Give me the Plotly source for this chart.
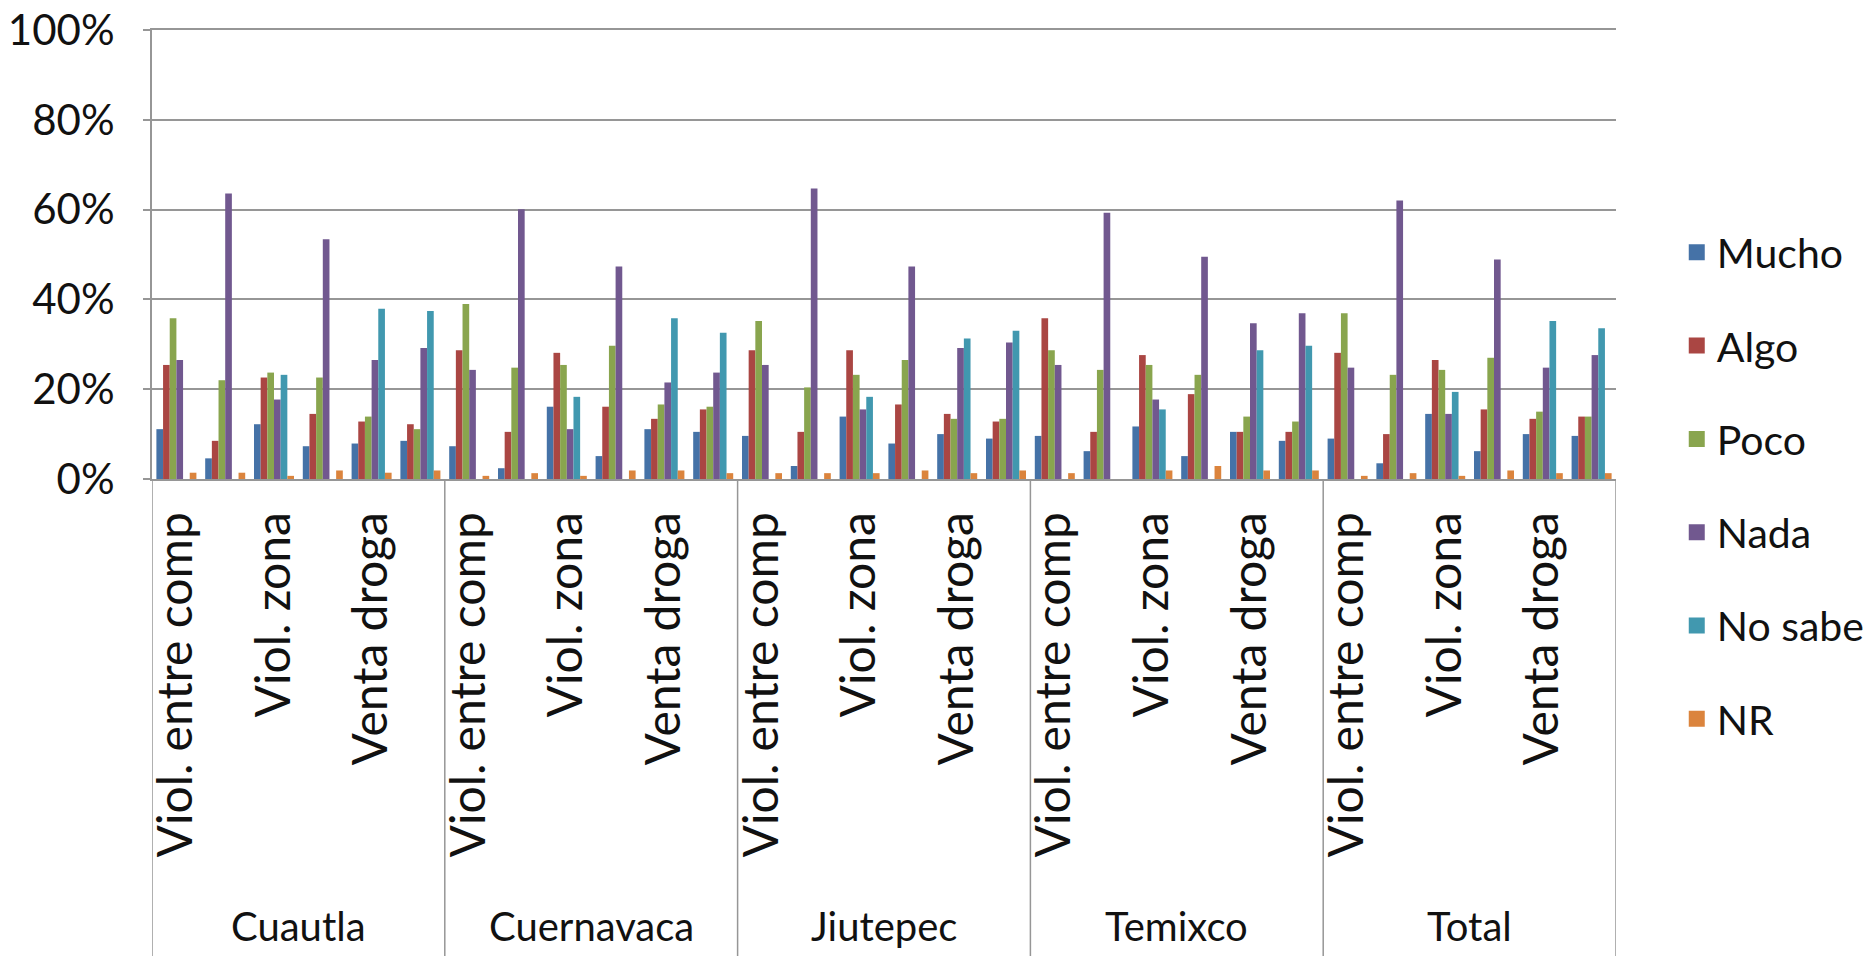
import plotly.graph_objects as go

# municipios y sub-categorías (Excel sólo muestra una etiqueta de cada dos)
grupos = ["Cuautla", "Cuernavaca", "Jiutepec", "Temixco", "Total"]
subcats = ["Viol. entre comp", "", "Viol. zona", "", "Venta droga", ""]

series = ["Mucho", "Algo", "Poco", "Nada", "No sabe", "NR"]
colores = ["#4572A7", "#AA4643", "#89A54E", "#71588F", "#4198AF", "#DB843D"]

# valores (%) por serie: 5 grupos x 6 sub-categorías
mucho = [11.1, 4.6, 12.2, 7.3, 7.9, 8.5,
         7.3, 2.4, 16.1, 5.1, 11.1, 10.5,
         9.6, 2.9, 13.9, 7.9, 10.0, 9.0,
         9.6, 6.2, 11.7, 5.1, 10.5, 8.5,
         9.0, 3.5, 14.5, 6.2, 10.0, 9.6]
algo = [25.4, 8.5, 22.6, 14.5, 12.8, 12.2,
        28.7, 10.5, 28.1, 16.1, 13.4, 15.5,
        28.7, 10.5, 28.7, 16.6, 14.5, 12.8,
        35.8, 10.5, 27.6, 18.9, 10.5, 10.5,
        28.1, 10.0, 26.5, 15.5, 13.4, 13.9]
poco = [35.8, 22.0, 23.7, 22.6, 13.9, 11.1,
        39.0, 24.8, 25.4, 29.7, 16.6, 16.1,
        35.2, 20.4, 23.2, 26.5, 13.4, 13.4,
        28.7, 24.3, 25.4, 23.2, 13.9, 12.8,
        36.9, 23.2, 24.3, 27.0, 15.0, 13.9]
nada = [26.5, 63.6, 17.7, 53.4, 26.5, 29.2,
        24.3, 60.1, 11.1, 47.3, 21.5, 23.7,
        25.4, 64.7, 15.5, 47.3, 29.2, 30.4,
        25.4, 59.3, 17.7, 49.5, 34.7, 36.9,
        24.8, 62.0, 14.5, 48.9, 24.8, 27.6]
no_sabe = [0, 0, 23.2, 0, 37.9, 37.4,
           0, 0, 18.3, 0, 35.8, 32.6,
           0, 0, 18.3, 0, 31.3, 33.0,
           0, 0, 15.5, 0, 28.7, 29.7,
           0, 0, 19.4, 0, 35.2, 33.6]
nr = [1.4, 1.4, 0.7, 1.9, 1.4, 1.9,
      0.7, 1.3, 0.7, 1.9, 1.9, 1.3,
      1.3, 1.3, 1.3, 1.9, 1.3, 1.9,
      1.3, 0, 1.9, 2.9, 1.9, 1.9,
      0.7, 1.3, 0.7, 1.9, 1.3, 1.3]

valores = [mucho, algo, poco, nada, no_sabe, nr]

FONT = "Lato, Carlito, Calibri, sans-serif"
GRIS = "#969696"

n_sub = len(subcats)
xs = list(range(len(grupos) * n_sub))

fig = go.Figure()
for nombre, color, vals in zip(series, colores, valores):
    fig.add_trace(go.Bar(
        x=xs,
        y=[v / 100 for v in vals],
        name=nombre,
        marker=dict(color=color, line=dict(width=0)),
        legendgroup=nombre,
        showlegend=False,
    ))
    # entrada de leyenda con cuadro más grande
    fig.add_trace(go.Scatter(
        x=[None], y=[None], mode="markers", name=nombre,
        marker=dict(symbol="square", size=20, color=color, line=dict(width=0)),
        legendgroup=nombre,
    ))

# etiquetas visibles del eje x
tickvals, ticktext = [], []
for g in range(len(grupos)):
    for s, lab in enumerate(subcats):
        if lab:
            tickvals.append(g * n_sub + s)
            ticktext.append(lab)

# divisores entre municipios y nombres de grupo
for g in range(len(grupos) + 1):
    fig.add_shape(type="line", xref="x", yref="paper",
                  x0=g * n_sub - 0.5, x1=g * n_sub - 0.5, y0=0, y1=-1.2,
                  line=dict(color=GRIS, width=1.5))
for g, nombre in enumerate(grupos):
    fig.add_annotation(x=g * n_sub + (n_sub - 1) / 2, xref="x",
                       y=-0.995, yref="paper", yanchor="middle",
                       text=nombre, showarrow=False,
                       font=dict(family=FONT, size=40, color="#111"))

fig.update_layout(
    width=1874, height=956,
    margin=dict(l=152, r=258, t=30, b=477, autoexpand=False),
    paper_bgcolor="white", plot_bgcolor="white",
    barmode="group", bargap=0.18, bargroupgap=0,
    font=dict(family=FONT, color="#111"),
    showlegend=True,
    legend=dict(x=1.0415, xanchor="left", y=0.492, yref="container",
                yanchor="middle", maxheight=900,
                font=dict(family=FONT, size=41), tracegroupgap=37,
                itemwidth=30),
)
fig.update_xaxes(
    range=[-0.5, len(xs) - 0.5],
    tickmode="array", tickvals=tickvals, ticktext=ticktext,
    tickangle=-90, tickfont=dict(family=FONT, size=48, color="#111"),
    ticklabelstandoff=12, automargin=False,
    showline=True, linecolor=GRIS, linewidth=2, mirror=True,
    showgrid=False, zeroline=False, ticks="",
)
fig.update_yaxes(
    range=[0, 1], dtick=0.2, tickformat=".0%",
    tickfont=dict(family=FONT, size=42, color="#111"),
    automargin=False, ticklabelstandoff=20,
    showgrid=True, gridcolor=GRIS, gridwidth=2,
    showline=True, linecolor=GRIS, linewidth=2,
    ticks="outside", ticklen=7, tickcolor=GRIS, tickwidth=2,
    zeroline=False,
)

# sin margen del <body> para que la figura ocupe la ventana exacta
fig.write_html("out.html",
               config={"displayModeBar": False},
               post_script="document.body.style.margin='0';"
                           "document.body.style.overflow='hidden';")
